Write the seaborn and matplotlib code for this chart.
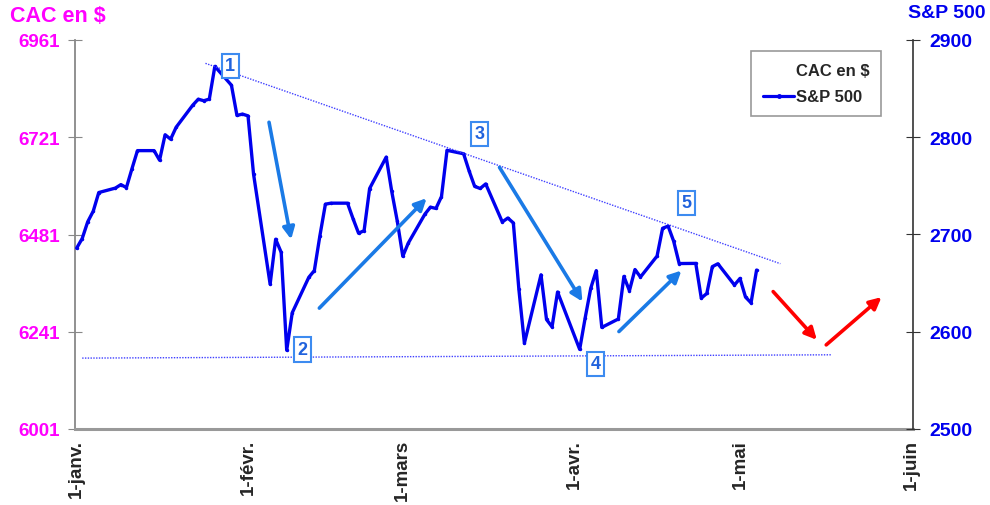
import matplotlib.pyplot as plt
import pandas as pd
import seaborn as sns
import matplotlib.dates as mdates
from matplotlib.lines import Line2D

# S&P 500 closes 2018 (US holidays carry the previous close)
sp_dates = [
    "2018-01-01", "2018-01-02", "2018-01-03", "2018-01-04", "2018-01-05",
    "2018-01-08", "2018-01-09", "2018-01-10", "2018-01-11", "2018-01-12",
    "2018-01-15", "2018-01-16", "2018-01-17", "2018-01-18", "2018-01-19",
    "2018-01-22", "2018-01-23", "2018-01-24", "2018-01-25", "2018-01-26",
    "2018-01-29", "2018-01-30", "2018-01-31", "2018-02-01", "2018-02-02",
    "2018-02-05", "2018-02-06", "2018-02-07", "2018-02-08", "2018-02-09",
    "2018-02-12", "2018-02-13", "2018-02-14", "2018-02-15", "2018-02-16",
    "2018-02-19", "2018-02-20", "2018-02-21", "2018-02-22", "2018-02-23",
    "2018-02-26", "2018-02-27", "2018-02-28", "2018-03-01", "2018-03-02",
    "2018-03-05", "2018-03-06", "2018-03-07", "2018-03-08", "2018-03-09",
    "2018-03-12", "2018-03-13", "2018-03-14", "2018-03-15", "2018-03-16",
    "2018-03-19", "2018-03-20", "2018-03-21", "2018-03-22", "2018-03-23",
    "2018-03-26", "2018-03-27", "2018-03-28", "2018-03-29", "2018-04-02",
    "2018-04-03", "2018-04-04", "2018-04-05", "2018-04-06", "2018-04-09",
    "2018-04-10", "2018-04-11", "2018-04-12", "2018-04-13", "2018-04-16",
    "2018-04-17", "2018-04-18", "2018-04-19", "2018-04-20", "2018-04-23",
    "2018-04-24", "2018-04-25", "2018-04-26", "2018-04-27", "2018-04-30",
    "2018-05-01", "2018-05-02", "2018-05-03", "2018-05-04",
]
sp_values = [
    2686.0, 2695.81, 2713.06, 2723.99, 2743.15,
    2747.71, 2751.29, 2748.23, 2767.56, 2786.24,
    2786.24, 2776.42, 2802.56, 2798.03, 2810.30,
    2832.97, 2839.13, 2837.54, 2839.25, 2872.87,
    2853.53, 2822.43, 2823.81, 2821.98, 2762.13,
    2648.94, 2695.14, 2681.66, 2581.00, 2619.55,
    2656.00, 2662.94, 2698.63, 2731.20, 2732.22,
    2732.22, 2716.26, 2701.33, 2703.96, 2747.30,
    2779.60, 2744.28, 2713.83, 2677.67, 2691.25,
    2720.94, 2728.12, 2726.80, 2738.97, 2786.57,
    2783.02, 2765.31, 2749.48, 2747.33, 2752.01,
    2712.92, 2716.94, 2711.93, 2643.69, 2588.26,
    2658.55, 2612.62, 2605.00, 2640.87, 2581.88,
    2614.45, 2644.69, 2662.84, 2604.47, 2613.16,
    2656.87, 2642.19, 2663.99, 2656.30, 2677.84,
    2706.39, 2708.64, 2693.13, 2670.14, 2670.29,
    2634.56, 2639.40, 2666.94, 2669.91, 2648.05,
    2654.80, 2635.67, 2629.73, 2663.42,
]

cac_ticks = [6001, 6241, 6481, 6721, 6961]
sp_ticks = [2500, 2600, 2700, 2800, 2900]
month_ticks = ["2018-01-01", "2018-02-01", "2018-03-01", "2018-04-01", "2018-05-01", "2018-06-01"]
month_labels = ["1-janv.", "1-févr.", "1-mars", "1-avr.", "1-mai", "1-juin"]

# drawing overlay, in (days after 1 Jan, S&P level)
resistance = [(23.3, 2876), (127.3, 2670)]
support = [(1.0, 2572.9), (136.5, 2576.3)]
blue_arrows = [
    ((34.8, 2815.4), (38.8, 2695.0)),
    ((43.9, 2624.3), (63.3, 2737.3)),
    ((76.5, 2769.0), (91.5, 2631.0)),
    ((98.1, 2600.2), (109.4, 2662.9)),
]
red_arrows = [
    ((126.0, 2641.3), (133.9, 2591.7)),
    ((135.6, 2586.5), (145.6, 2635.6)),
]
waves = [("1", 27.8, 2873.6), ("2", 40.9, 2581.7), ("3", 72.9, 2803.4),
         ("4", 93.9, 2567.0), ("5", 110.3, 2732.5)]

sns.set_style("white")
plt.rcParams["font.family"] = ["Liberation Sans", "DejaVu Sans"]
plt.rcParams["font.weight"] = "bold"

MAGENTA = "#ff00ff"
BLUE = "#0000ee"
ARROW_BLUE = "#1a7ae6"

fig = plt.figure(figsize=(9.9, 5.06), dpi=100)
ax = fig.add_axes([75 / 990, 1 - 430 / 506, (913 - 75) / 990, (430 - 41) / 506])
ax2 = ax.twinx()

df = pd.DataFrame({"date": pd.to_datetime(sp_dates), "sp": sp_values})
sns.lineplot(data=df, x="date", y="sp", ax=ax2, color=BLUE, linewidth=2.4,
             marker="o", markersize=2.5, markeredgewidth=0)

t0 = mdates.date2num(pd.Timestamp("2018-01-01"))
ax2.set_xlim(t0 - 0.3, t0 + 151.3)
ax2.set_ylim(2500, 2900)
ax.set_ylim(6001, 6961)

ax.set_xticks(pd.to_datetime(month_ticks))
ax.set_xticklabels(month_labels, rotation=90, fontsize=13.5, fontweight="bold")
ax.set_yticks(cac_ticks)
ax.set_yticklabels([str(v) for v in cac_ticks], fontsize=13.5, fontweight="bold", color=MAGENTA)
ax2.set_yticks(sp_ticks)
ax2.set_yticklabels([str(v) for v in sp_ticks], fontsize=14, fontweight="bold", color=BLUE)
ax.set_xlabel("")
ax2.set_xlabel("")
ax2.set_ylabel("")

ax.tick_params(axis="y", direction="inout", length=10, color="#888888", pad=6)
ax.tick_params(axis="x", direction="inout", length=12, color="#666666", pad=1)
ax2.tick_params(axis="y", direction="inout", length=10, color="#333333", pad=7)

for a in (ax, ax2):
    a.spines["top"].set_visible(False)
ax.spines["right"].set_visible(False)
ax2.spines["left"].set_visible(False)
ax2.spines["bottom"].set_visible(False)
ax.spines["left"].set_color("#888888")
ax.spines["left"].set_linewidth(1.3)
ax.spines["bottom"].set_color("#999999")
ax.spines["bottom"].set_linewidth(2.2)
ax2.spines["right"].set_color("#333333")
ax2.spines["right"].set_linewidth(1.2)

# trend lines
for pts in (resistance, support):
    ax2.plot([t0 + p[0] for p in pts], [p[1] for p in pts], linestyle=(0, (1, 1)),
             color="#4040ff", linewidth=1.0)

for tail, head in blue_arrows:
    ax2.annotate("", xy=(t0 + head[0], head[1]), xytext=(t0 + tail[0], tail[1]),
                 arrowprops=dict(arrowstyle="-|>,head_length=0.7,head_width=0.35",
                                 color=ARROW_BLUE, lw=2.6, shrinkA=0, shrinkB=0))
for tail, head in red_arrows:
    ax2.annotate("", xy=(t0 + head[0], head[1]), xytext=(t0 + tail[0], tail[1]),
                 arrowprops=dict(arrowstyle="-|>,head_length=0.7,head_width=0.35",
                                 color="#ff0000", lw=2.6, shrinkA=0, shrinkB=0))

for label, day, val in waves:
    ax2.text(t0 + day, val, label, ha="center", va="center", fontsize=13,
             fontweight="bold", color="#2062dd",
             bbox=dict(boxstyle="square,pad=0.2", fc="white", ec="#3d8bf0", lw=1.5))

handles = [Line2D([], [], color="white", linewidth=2.3),
           Line2D([], [], color=BLUE, linewidth=2.3, marker="o", markersize=2.5)]
leg = ax2.legend(handles, ["CAC en $", "S&P 500"], loc="upper left",
                 bbox_to_anchor=(751 / 990, 1 - 52 / 506), bbox_transform=fig.transFigure,
                 borderaxespad=0, fancybox=False, framealpha=1, edgecolor="#999999",
                 prop={"size": 12, "weight": "bold"}, handlelength=1.9,
                 handletextpad=0.1, borderpad=0.7, labelspacing=0.7)
leg.get_frame().set_linewidth(1.2)

fig.text(10 / 990, 1 - 16 / 506, "CAC en $", color=MAGENTA, fontsize=15.5,
         fontweight="bold", va="center", ha="left")
fig.text(908 / 990, 1 - 14 / 506, "S&P 500", color=BLUE, fontsize=14,
         fontweight="bold", va="center", ha="left")

fig.savefig("out.png", dpi=100)
